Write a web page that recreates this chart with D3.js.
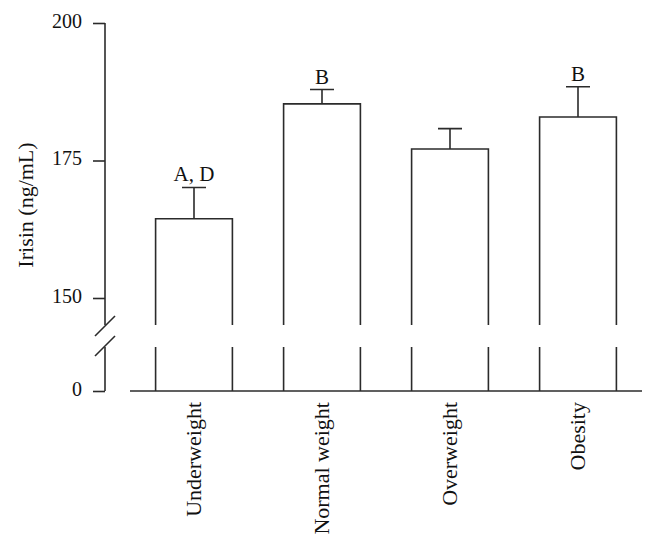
<!DOCTYPE html>
<html>
<head>
<meta charset="utf-8">
<script src="https://cdn.jsdelivr.net/npm/d3@7"></script>
<style>
body { margin: 0; background: #fff; }
</style>
</head>
<body>
<div class="chart"></div>
<script>
// data
var categories = ["Underweight", "Normal weight", "Overweight", "Obesity"];
var means = [164.4, 185.3, 177.1, 182.9];
var errors = [5.7, 2.6, 3.7, 5.5];
var letters = ["A, D", "B", "", "B"];
var upper_ticks = [150, 175, 200];
var lower_ticks = [0];

var width = 656, height = 547;
var ink = "#2b2b2b";
var font = "'Liberation Serif', 'Times New Roman', serif";

var axis_x = 105;
var break_top = 325, break_bottom = 347;

var svg = d3.select(".chart").append("svg")
    .attr("width", width)
    .attr("height", height);

// scales
var x_scale = d3.scaleBand()
    .domain(categories)
    .range([130, 642])
    .paddingInner(0.4)
    .paddingOuter(0.2);

var y_upper = d3.scaleLinear()
    .domain([150, 200])
    .range([298, 23]);

var y_lower = d3.scaleLinear()
    .domain([0, 40])
    .range([391, break_bottom]);

// y axis, upper part
var ax_up = svg.append("g")
    .attr("transform", "translate(" + axis_x + ",0)")
    .call(d3.axisLeft(y_upper).tickValues(upper_ticks).tickSize(12).tickSizeOuter(0).tickPadding(11));

// y axis, lower part
var ax_low = svg.append("g")
    .attr("transform", "translate(" + axis_x + ",0)")
    .call(d3.axisLeft(y_lower).tickValues(lower_ticks).tickSize(12).tickSizeOuter(0).tickPadding(11));

ax_up.select(".domain").remove();
ax_low.select(".domain").remove();

svg.selectAll(".tick line").attr("stroke", ink).attr("stroke-width", 1.6);
svg.selectAll(".tick text")
    .attr("font-family", font)
    .attr("font-size", "20px")
    .attr("fill", "#111")
    .attr("dy", "0.2em");

svg.append("line")
    .attr("x1", axis_x).attr("x2", axis_x)
    .attr("y1", y_upper(200)).attr("y2", break_top)
    .attr("stroke", ink).attr("stroke-width", 1.6);
svg.append("line")
    .attr("x1", axis_x).attr("x2", axis_x)
    .attr("y1", break_bottom).attr("y2", y_lower(0))
    .attr("stroke", ink).attr("stroke-width", 1.6);

// break marks
[break_top + 1, break_bottom - 1].forEach(function(yy){
    svg.append("line")
        .attr("x1", axis_x - 10).attr("y1", yy + 10)
        .attr("x2", axis_x + 10).attr("y2", yy - 10)
        .attr("stroke", ink).attr("stroke-width", 1.6);
});

// x axis baseline
svg.append("line")
    .attr("x1", x_scale.range()[0]).attr("x2", x_scale.range()[1])
    .attr("y1", y_lower(0)).attr("y2", y_lower(0))
    .attr("stroke", ink).attr("stroke-width", 1.6);

var bars = svg.append("g").attr("class", "bars")
    .selectAll("g")
    .data(categories)
    .enter()
    .append("g");

// upper part of bars
bars.append("path")
    .attr("d", function(d, i){
        var x0 = x_scale(d), x1 = x0 + x_scale.bandwidth();
        return "M" + x0 + "," + break_top + "V" + y_upper(means[i]) + "H" + x1 + "V" + break_top;
    })
    .attr("fill", "#fff")
    .attr("stroke", ink)
    .attr("stroke-width", 1.6);

// lower part of bars
bars.append("path")
    .attr("d", function(d){
        var x0 = x_scale(d), x1 = x0 + x_scale.bandwidth();
        return "M" + x0 + "," + break_bottom + "V" + y_lower(0) +
               "M" + x1 + "," + break_bottom + "V" + y_lower(0);
    })
    .attr("fill", "none")
    .attr("stroke", ink)
    .attr("stroke-width", 1.6);

// error bars
bars.append("path")
    .attr("d", function(d, i){
        var cx = x_scale(d) + x_scale.bandwidth() / 2;
        var top = y_upper(means[i] + errors[i]);
        return "M" + cx + "," + y_upper(means[i]) + "V" + top +
               "M" + (cx - 12) + "," + top + "H" + (cx + 12);
    })
    .attr("fill", "none")
    .attr("stroke", ink)
    .attr("stroke-width", 1.6);

// significance letters
bars.append("text")
    .attr("x", function(d){ return x_scale(d) + x_scale.bandwidth() / 2; })
    .attr("y", function(d, i){ return y_upper(means[i] + errors[i]) - 6; })
    .attr("text-anchor", "middle")
    .attr("font-family", font)
    .attr("font-size", "21px")
    .attr("fill", "#111")
    .text(function(d, i){ return letters[i]; });

// category labels
bars.append("text")
    .attr("transform", function(d){
        var cx = x_scale(d) + x_scale.bandwidth() / 2;
        return "translate(" + cx + "," + 402 + ") rotate(-90)";
    })
    .attr("text-anchor", "end")
    .attr("dy", "0.32em")
    .attr("font-family", font)
    .attr("font-size", "22px")
    .attr("fill", "#111")
    .text(function(d){ return d; });

// y label
svg.append("text")
    .attr("transform", "translate(33,205) rotate(-90)")
    .attr("text-anchor", "middle")
    .attr("font-family", font)
    .attr("font-size", "22px")
    .attr("fill", "#111")
    .text("Irisin (ng/mL)");
</script>
</body>
</html>
